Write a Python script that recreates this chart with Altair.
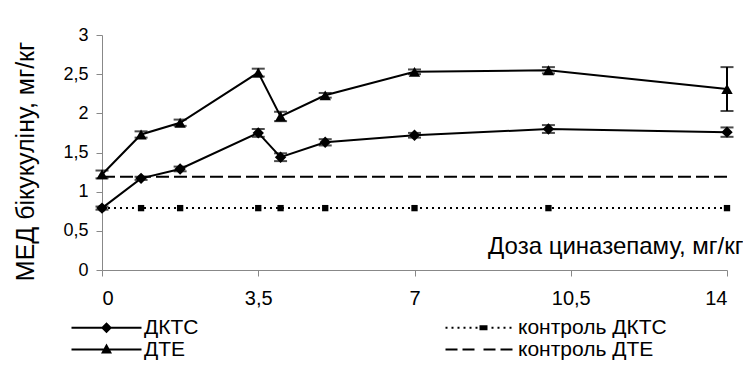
import altair as alt
import pandas as pd

# ---- data ----
doses = [0, 0.875, 1.75, 3.5, 4, 5, 7, 10, 14]
dktc = [0.79, 1.17, 1.29, 1.75, 1.44, 1.63, 1.72, 1.80, 1.76]
dktc_err = [0.02, 0.02, 0.03, 0.05, 0.05, 0.04, 0.03, 0.05, 0.06]
dte = [1.22, 1.73, 1.88, 2.52, 1.96, 2.23, 2.53, 2.55, 2.31]
dte_err = [0.05, 0.04, 0.04, 0.05, 0.06, 0.03, 0.03, 0.04, 0.28]
control_dktc = [0.79, 0.79, 0.79, 0.79, 0.79, 0.79, 0.79, 0.79, 0.79]
control_dte = [1.19, 1.19, 1.19, 1.19, 1.19, 1.19, 1.19, 1.19, 1.19]

# legend order: first column then second column
series_names = ["ДКТС", "ДТЕ", "контроль ДКТС", "контроль ДТЕ"]
x_ticks = [0, 3.5, 7, 10.5, 14]
y_ticks = [0, 0.5, 1, 1.5, 2, 2.5, 3]

FONT = "Liberation Sans"

rows = []
for name, vals, errs in [("ДКТС", dktc, dktc_err), ("ДТЕ", dte, dte_err),
                         ("контроль ДКТС", control_dktc, [0] * len(doses)),
                         ("контроль ДТЕ", control_dte, [0] * len(doses))]:
    for d, v, e in zip(doses, vals, errs):
        rows.append({"series": name, "dose": d, "value": v, "lo": v - e, "hi": v + e})
df = pd.DataFrame(rows)

# ---- legend symbols (line + marker drawn as filled custom symbol paths) ----
U = 5.0  # px per path unit (symbolSize 100 -> r = 5)
C = 6.0  # symbol origin offset inside the entry


def u(px):
    return round((px - C) / U, 3)


def bar(a, b, hh=1.0):
    return f"M{u(a)},{-hh/U}H{u(b)}V{hh/U}H{u(a)}Z"


def diamond(cx, h):
    return f"M{u(cx)},{-h/U}L{u(cx + h)},0L{u(cx)},{h/U}L{u(cx - h)},0Z"


def triangle(cx, h):
    return f"M{u(cx)},{-6/U}L{u(cx + h)},{4/U}L{u(cx - h)},{4/U}Z"


path_dktc = bar(0, 70) + diamond(35, 5.5)
path_dte = bar(0, 70) + triangle(35, 5.5)
path_cdktc = "".join(bar(p, p + 2) for p in [0, 6, 12, 18, 24, 30, 46, 52, 58, 64]) + bar(34, 42, 2.5)
path_cdte = "".join(bar(a, b) for a, b in [(0, 12), (17, 29), (38, 50), (55, 67)])

shape_range = [path_dktc, path_dte, path_cdktc, path_cdte]

label_expr = "replace(format(datum.value, '.1~f'), '.', ',')"
x_axis = alt.Axis(values=x_ticks, title="Доза циназепаму, мг/кг", labelExpr=label_expr,
                  labelOverlap=False, titleX=641, titleY=-17, titleAlign="right",
                  titleBaseline="alphabetic", titleAnchor="end")
y_axis = alt.Axis(values=y_ticks, tickCount=7, title="МЕД бікукуліну, мг/кг", labelExpr=label_expr,
                  labelOverlap=False, titleX=-77, titleY=126, titleBaseline="middle")
x_scale = alt.Scale(domain=[0, 14], nice=False, zero=False)
y_scale = alt.Scale(domain=[0, 3], nice=False)


def X(field):
    return alt.X(field, scale=x_scale, axis=x_axis)


def Y(field):
    return alt.Y(field, scale=y_scale, axis=y_axis)


base = alt.Chart(df)
main = base.transform_filter(alt.FieldOneOfPredicate(field="series", oneOf=["ДКТС", "ДТЕ"]))

lines = main.mark_line(color="black", strokeWidth=2).encode(x=X("dose:Q"), y=Y("value:Q"), detail="series:N")

ctrl1 = base.transform_filter(alt.datum.series == "контроль ДКТС").mark_line(
    color="black", strokeWidth=2, strokeDash=[2, 4]).encode(x=X("dose:Q"), y=Y("value:Q"))
ctrl2 = base.transform_filter(alt.datum.series == "контроль ДТЕ").mark_line(
    color="black", strokeWidth=2, strokeDash=[13, 5]).encode(x=X("dose:Q"), y=Y("value:Q"))
sq = base.transform_filter(alt.datum.series == "контроль ДКТС").mark_point(
    shape="square", filled=True, color="black", size=40, opacity=1).encode(x=X("dose:Q"), y=Y("value:Q"))

rules = main.mark_rule(color="black", strokeWidth=2).encode(x=X("dose:Q"), y=Y("lo:Q"), y2="hi:Q")
cap_lo = main.mark_tick(color="black", orient="horizontal", size=13, thickness=2).encode(
    x=X("dose:Q"), y=Y("lo:Q"))
cap_hi = main.mark_tick(color="black", orient="horizontal", size=13, thickness=2).encode(
    x=X("dose:Q"), y=Y("hi:Q"))

dia = base.transform_filter(alt.datum.series == "ДКТС").mark_point(
    shape="diamond", filled=True, color="black", size=130, opacity=1).encode(x=X("dose:Q"), y=Y("value:Q"))
tri = base.transform_filter(alt.datum.series == "ДТЕ").mark_point(
    shape="triangle-up", filled=True, color="black", size=130, opacity=1).encode(x=X("dose:Q"), y=Y("value:Q"))

legend_df = pd.DataFrame({"series": series_names})
legend_layer = alt.Chart(legend_df).mark_point(
    opacity=0, filled=True, color="black", size=100
).encode(
    shape=alt.Shape("series:N", scale=alt.Scale(domain=series_names, range=shape_range),
                    legend=alt.Legend(orient="none", legendX=-35, legendY=282, columns=2,
                                      columnPadding=242, rowPadding=0, padding=0, offset=0,
                                      title=None, symbolSize=100,
                                      symbolFillColor="black", symbolOpacity=1,
                                      labelFont=FONT, labelFontSize=21, labelColor="black",
                                      labelOffset=56, labelLimit=400))
)

chart = alt.layer(lines, ctrl2, ctrl1, sq, rules, cap_lo, cap_hi, dia, tri, legend_layer).properties(
    width=625, height=235,
    autosize=alt.AutoSizeParams(type="none"),
    padding={"left": 94, "top": 27, "right": 16, "bottom": 91},
    background="white",
).configure_view(stroke=None).configure_axis(
    domainColor="#888888", tickColor="#888888", domainWidth=1, tickWidth=1, tickSize=6,
    grid=False, labelFont=FONT, titleFont=FONT, labelColor="black", titleColor="black",
    titleFontWeight="normal",
).configure_axisY(labelFontSize=18, titleFontSize=25, labelPadding=8).configure_axisX(
    labelFontSize=20, titleFontSize=24, labelPadding=12
)

chart.save("out.html", embed_options={"renderer": "svg", "actions": False})
